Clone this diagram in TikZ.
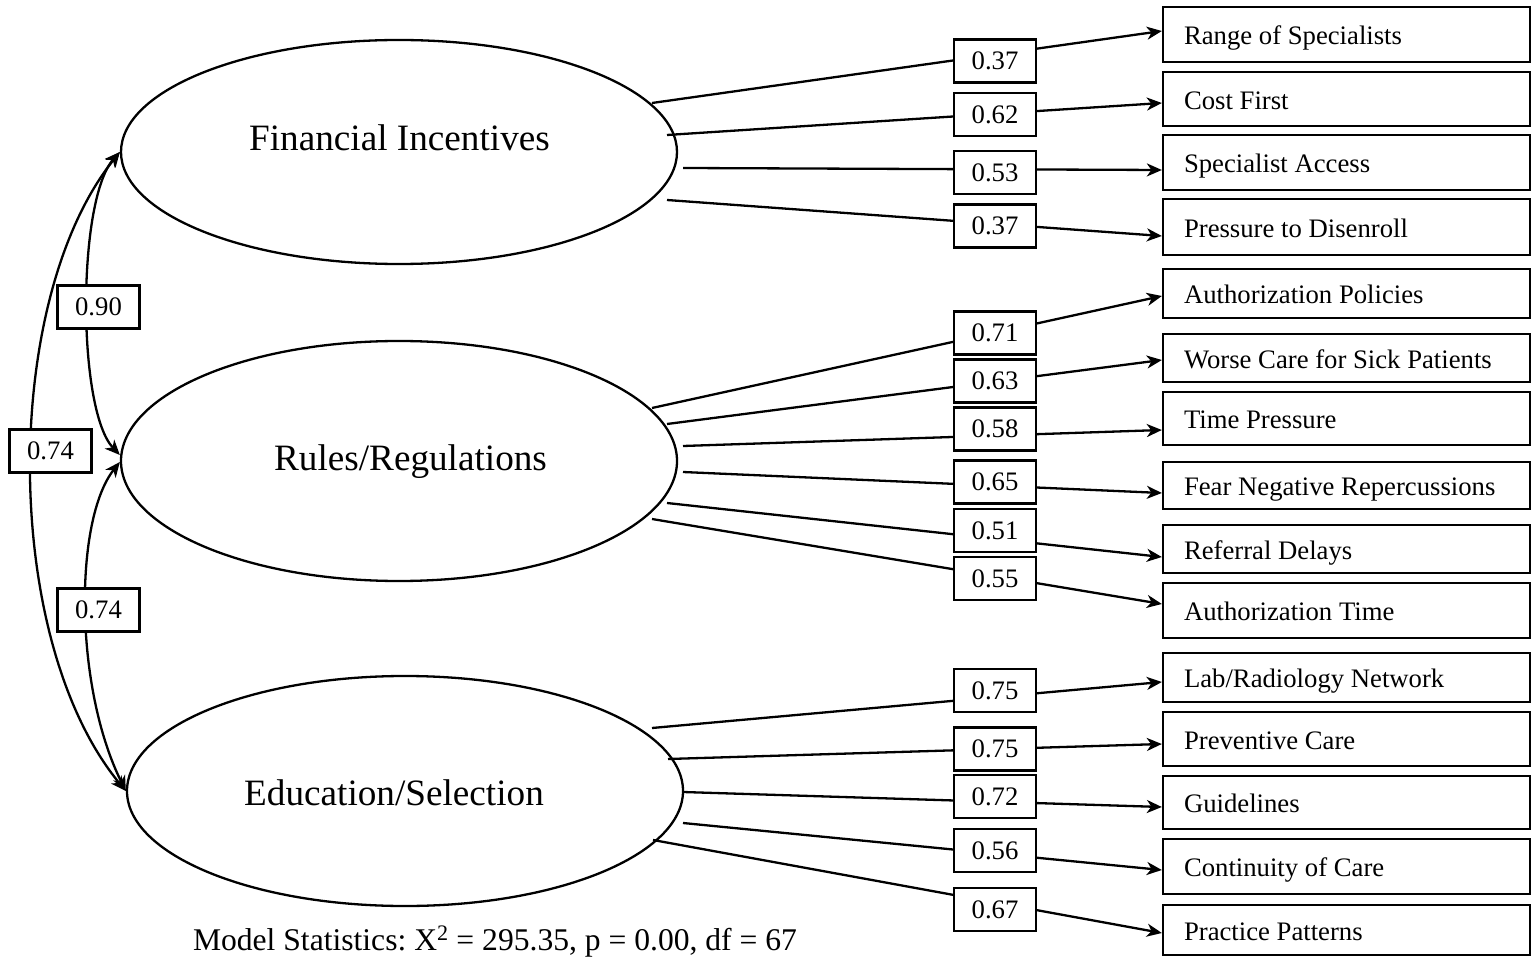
\documentclass[tikz,border=0pt]{standalone}
\usepackage{fontspec}
\setmainfont{Liberation Serif}
\usetikzlibrary{arrows.meta,shapes.geometric}
\newcommand{\indtext}[1]{\makebox[325pt][l]{#1}}
\frenchspacing
\begin{document}
\begin{tikzpicture}[x=1pt,y=-1pt,
  every node/.style={inner sep=0pt},
  lat/.style={draw, ellipse, line width=2.3pt, minimum width=556pt},
  lattext/.style={font=\fontsize{37.2}{44}\selectfont, text height=24.5pt, text depth=0pt},
  ind/.style={draw, line width=2.3pt, minimum width=367pt, inner xsep=21pt, inner ysep=0pt,
    font=\fontsize{26.7}{32}\selectfont, text height=20.5pt, text depth=0pt},
  wt/.style={draw, fill=white, line width=2.3pt, minimum width=82pt, minimum height=43pt,
    font=\fontsize{26.7}{32}\selectfont, text height=17.6pt, text depth=0pt},
  tip/.tip={Stealth[length=15pt,width=13pt,inset=4.5pt]},
  conn/.style={line width=2.3pt, -tip},
  cov/.style={line width=2.3pt, tip-tip},
]
\useasboundingbox (0,0) rectangle (1531,957);

% latent variables
\node[lat, minimum height=224pt] (fin) at (399,152) {};
\node[lat, minimum height=240pt] (rul) at (399,461) {};
\node[lat, minimum height=230pt] (edu) at (405,791) {};
\node[lattext] (finT) at (399.5,138) {Financial Incentives};
\node[lattext] (rulT) at (410.5,458) {Rules/Regulations};
\node[lattext] (eduT) at (394,793) {Education/Selection};

% indicators
\node[ind, minimum height=55pt] (i1) at (1346.5,34.5) {\indtext{Range of Specialists}};
\node[ind, minimum height=54pt] (i2) at (1346.5,99) {\indtext{Cost First}};
\node[ind, minimum height=55pt] (i3) at (1346.5,162.5) {\indtext{Specialist Access}};
\node[ind, minimum height=56pt] (i4) at (1346.5,227) {\indtext{Pressure to Disenroll}};
\node[ind, minimum height=49pt] (r1) at (1346.5,293.5) {\indtext{Authorization Policies}};
\node[ind, minimum height=48pt] (r2) at (1346.5,358) {\indtext{Worse Care for Sick Patients}};
\node[ind, minimum height=53pt] (r3) at (1346.5,418.5) {\indtext{Time Pressure}};
\node[ind, minimum height=47pt] (r4) at (1346.5,485.5) {\indtext{Fear Negative Repercussions}};
\node[ind, minimum height=48pt] (r5) at (1346.5,549) {\indtext{Referral Delays}};
\node[ind, minimum height=55pt] (r6) at (1346.5,610.5) {\indtext{Authorization Time}};
\node[ind, minimum height=49pt] (e1) at (1346.5,677.5) {\indtext{Lab/Radiology Network}};
\node[ind, minimum height=54pt] (e2) at (1346.5,739) {\indtext{Preventive Care}};
\node[ind, minimum height=53pt] (e3) at (1346.5,802.5) {\indtext{Guidelines}};
\node[ind, minimum height=55pt] (e4) at (1346.5,866.5) {\indtext{Continuity of Care}};
\node[ind, minimum height=50pt] (e5) at (1346.5,930) {\indtext{Practice Patterns}};

% loadings
\draw[conn] ([shift={(253,-49)}]fin.center) -- ([shift={(0,-3.5)}]i1.west);
\draw[conn] ([shift={(268,-17)}]fin.center) -- ([shift={(0,4)}]i2.west);
\draw[conn] ([shift={(284,16)}]fin.center) -- ([shift={(0,7.5)}]i3.west);
\draw[conn] ([shift={(268,48)}]fin.center) -- ([shift={(0,9)}]i4.west);

\draw[conn] ([shift={(253,-53)}]rul.center) -- ([shift={(0,2.5)}]r1.west);
\draw[conn] ([shift={(268,-37)}]rul.center) -- ([shift={(0,2)}]r2.west);
\draw[conn] ([shift={(284,-15)}]rul.center) -- ([shift={(0,11.5)}]r3.west);
\draw[conn] ([shift={(284,11)}]rul.center) -- ([shift={(0,7.5)}]r4.west);
\draw[conn] ([shift={(268,42)}]rul.center) -- ([shift={(0,8)}]r5.west);
\draw[conn] ([shift={(253,58)}]rul.center) -- ([shift={(0,-6.5)}]r6.west);

\draw[conn] ([shift={(247,-63)}]edu.center) -- ([shift={(0,4.5)}]e1.west);
\draw[conn] ([shift={(263,-32)}]edu.center) -- ([shift={(0,5)}]e2.west);
\draw[conn] ([shift={(278,1)}]edu.center) -- ([shift={(0,4.5)}]e3.west);
\draw[conn] ([shift={(278,32)}]edu.center) -- ([shift={(0,3.5)}]e4.west);
\draw[conn] ([shift={(248,49)}]edu.center) -- ([shift={(0,3)}]e5.west);

% covariances
\draw[cov] (fin.west) .. controls (77,200) and (77,410) .. ([shift={(0,-6)}]rul.west);
\draw[cov] (fin.west) .. controls (1,300) and (1,640) .. (edu.west);
\draw[cov] ([shift={(0,1)}]rul.west) .. controls (74,520) and (74,687) .. (edu.west);

% weight labels
\node[wt] (w1) at (995,61) {0.37};
\node[wt] (w2) at (995,114.5) {0.62};
\node[wt] (w3) at (995,172.5) {0.53};
\node[wt] (w4) at (995,226) {0.37};
\node[wt] (w5) at (995,333) {0.71};
\node[wt] (w6) at (995,381) {0.63};
\node[wt] (w7) at (995,429) {0.58};
\node[wt] (w8) at (995,482) {0.65};
\node[wt] (w9) at (995,530.5) {0.51};
\node[wt] (w10) at (995,578.5) {0.55};
\node[wt] (w11) at (995,690.5) {0.75};
\node[wt] (w12) at (995,749) {0.75};
\node[wt] (w13) at (995,796.5) {0.72};
\node[wt] (w14) at (995,850.5) {0.56};
\node[wt] (w15) at (995,909.5) {0.67};
\node[wt] (c1) at (98.5,307) {0.90};
\node[wt] (c2) at (50.5,451) {0.74};
\node[wt] (c3) at (98.5,610) {0.74};

\node[anchor=base, font=\fontsize{31.6}{38}\selectfont] (stats) at (495,950)
  {Model Statistics: X\textsuperscript{2} = 295.35, p = 0.00, df = 67};
\end{tikzpicture}
\end{document}
